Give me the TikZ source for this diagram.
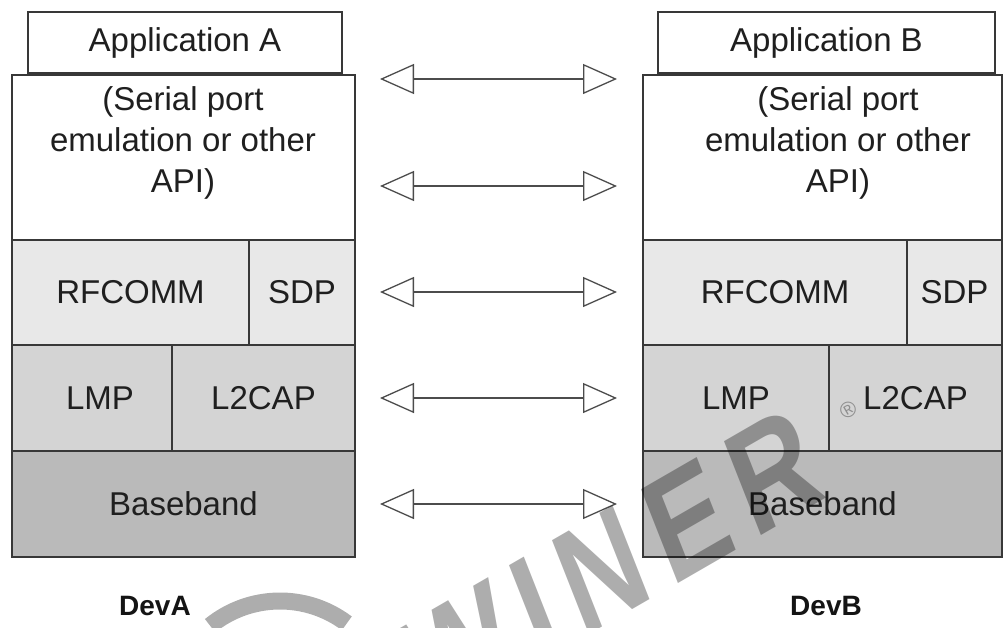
\documentclass[tikz,border=0pt]{standalone}
\usepackage{fontspec}
\setmainfont{Liberation Sans}
\usetikzlibrary{arrows.meta}

\tikzset{
  layer/.style={draw=black!78, line width=1.4pt, inner sep=0pt, anchor=center,
                font=\fontsize{33}{41}\selectfont, text=black!88},
  white layer/.style={layer, fill=white},
  upper layer/.style={layer, fill=black!9},
  middle layer/.style={layer, fill=black!17},
  lower layer/.style={layer, fill=black!27},
  layer text/.style={font=\fontsize{33}{41}\selectfont, text=black!88, align=center,
                     anchor=north, inner sep=0pt},
  peer link/.style={draw=black!70, line width=1.5pt,
                    {Triangle[open, length=34pt, width=30pt, line width=1.3pt]}-{Triangle[open, length=34pt, width=30pt, line width=1.3pt]}},
  devlabel/.style={font=\fontsize{28}{30}\selectfont\bfseries, text=black!92}
}

\begin{document}
\begin{tikzpicture}[x=1pt, y=-1pt]
\useasboundingbox (0,0) rectangle (1003,627);

% ---- device A stack ----
\node[white layer, minimum width=314pt, minimum height=61pt] (appA) at (185,42.5) {Application A};
\node[white layer, minimum width=343pt, minimum height=165pt] (serA) at (183.5,157.5) {};
\node[layer text] (serAt) at (183,86) {(Serial port\\emulation or other\\API)};
\node[upper layer, minimum width=237pt, minimum height=105pt] (rfA) at (130.5,292.5) {RFCOMM};
\node[upper layer, minimum width=106pt, minimum height=105pt] (sdpA) at (302,292.5) {SDP};
\node[middle layer, minimum width=160pt, minimum height=106pt, text width=160pt, align=center] (lmpA) at (92,398) {\hspace*{16pt}LMP};
\node[middle layer, minimum width=183pt, minimum height=106pt] (l2A) at (263.5,398) {L2CAP};
\node[lower layer, minimum width=343pt, minimum height=106pt] (bbA) at (183.5,504) {Baseband};
\node[devlabel] (devA) at (155,606) {DevA};

% ---- device B stack ----
\node[white layer, minimum width=337pt, minimum height=61pt] (appB) at (826.5,42.5) {Application B};
\node[white layer, minimum width=359pt, minimum height=165pt] (serB) at (822.5,157.5) {};
\node[layer text] (serBt) at (838,86) {(Serial port\\emulation or other\\API)};
\node[upper layer, minimum width=264pt, minimum height=105pt] (rfB) at (775,292.5) {RFCOMM};
\node[upper layer, minimum width=95pt, minimum height=105pt] (sdpB) at (954.5,292.5) {SDP};
\node[middle layer, minimum width=186pt, minimum height=106pt] (lmpB) at (736,398) {LMP};
\node[middle layer, minimum width=173pt, minimum height=106pt] (l2B) at (915.5,398) {L2CAP};
\node[lower layer, minimum width=359pt, minimum height=106pt] (bbB) at (822.5,504) {Baseband};
\node[devlabel] (devB) at (826,606) {DevB};

% ---- peer-to-peer links between matching layers ----
\foreach \i/\y in {1/79, 2/186, 3/292, 4/398, 5/504} {
  \coordinate (pl\i) at (380,\y);
  \coordinate (pr\i) at (617,\y);
  \draw[peer link] (pl\i) -- (pr\i);
}

% ---- translucent watermark laid over the diagram ----
\begin{scope}[opacity=0.32]
  \draw[line width=17pt, black] (280,712) ++(231:111) arc (231:307:111);
  \node[rotate=30, xslant=0.15, xscale=0.82, inner sep=0pt,
        font=\fontsize{145}{145}\selectfont\bfseries\addfontfeature{LetterSpace=14},
        text=black] (wm) at (610,565) {WINER};
  \node[font=\fontsize{22}{22}\selectfont, text=black, rotate=30] (wmr) at (848,410) {®};
\end{scope}
\end{tikzpicture}
\end{document}
